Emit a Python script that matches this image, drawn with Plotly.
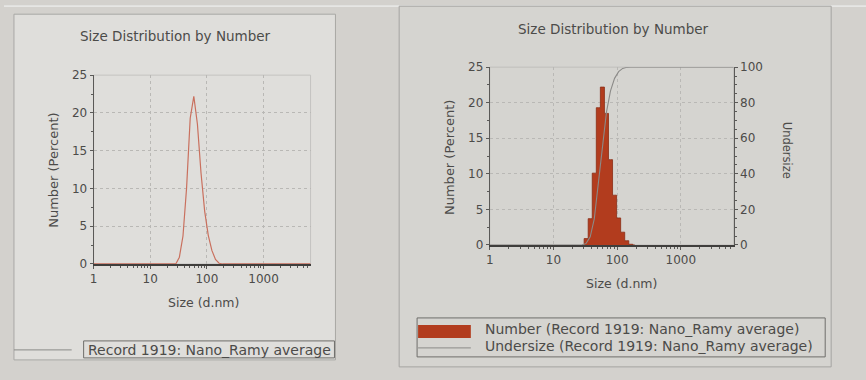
import plotly.graph_objects as go

W, H = 866, 380

# ---------------- data ----------------
sizes = [28.21, 32.67, 37.84, 43.82, 50.75, 58.77, 68.06, 78.82, 91.28, 105.7, 122.4, 141.8, 164.2, 190.1]
number_pct = [0, 0.9, 3.7, 10.1, 19.3, 22.2, 18.5, 12.0, 7.0, 3.8, 1.8, 0.6, 0.1, 0]
line_sizes = [1.0] + sizes + [6800]
line_number = [0] + number_pct + [0]
under_sizes = [1.0, 28.21, 32.67, 37.84, 43.82, 50.75, 58.77, 68.06, 78.82, 91.28, 105.7, 122.4, 141.8, 164.2, 6800]
under_pct = [0, 0, 0.9, 4.6, 14.7, 34.0, 56.2, 74.7, 86.7, 93.7, 97.5, 99.3, 99.9, 100, 100]
x_tickvals = [1, 10, 100, 1000]
x_ticktext = ["1", "10", "100", "1000"]
y_ticks = [0, 5, 10, 15, 20, 25]
y2_ticks = [0, 20, 40, 60, 80, 100]
chart_title = "Size Distribution by Number"
x_title = "Size (d.nm)"
y_title = "Number (Percent)"
y2_title = "Undersize"
legend_left = "Record 1919: Nano_Ramy average"
legend_num = "Number (Record 1919: Nano_Ramy average)"
legend_und = "Undersize (Record 1919: Nano_Ramy average)"

# ---------------- style ----------------
FONT = "DejaVu Sans"
TXT = "#4c4b49"
AX = "#5a5957"
GRID = "#b9b8b5"
PAGE = "#d3d1cd"
LPANEL = "#dfdedb"
RPANEL = "#d5d4d0"
BAR = "#b23c1e"
BAR_EDGE = "#8a2c14"
LINE_RED = "#c9705e"
UNDER = "#8b8a88"

# vertical calibration of the rendered page (target pixel -> layout pixel)
VS, VO = 0.964, 6.8


def px(x):
    return x / W


def py(y):
    return 1 - ((y - VO) / VS) / H


fig = go.Figure()

fig.add_trace(go.Scatter(x=line_sizes, y=line_number, mode="lines",
                         line=dict(color=LINE_RED, width=1.2),
                         xaxis="x", yaxis="y", showlegend=False, name=legend_left))
fig.add_trace(go.Scatter(x=sizes, y=number_pct, mode="lines", line_shape="hvh",
                         fill="tozeroy", fillcolor=BAR,
                         line=dict(color=BAR_EDGE, width=0.8),
                         xaxis="x2", yaxis="y2", showlegend=False, name=legend_num))
fig.add_trace(go.Scatter(x=under_sizes, y=under_pct, mode="lines",
                         line=dict(color=UNDER, width=1.1),
                         xaxis="x2", yaxis="y3", showlegend=False, name=legend_und))

common_x = dict(type="log", range=[0, 3.83], showline=True, linecolor="#3f3e3c", linewidth=2,
                ticks="outside", ticklen=3, tickcolor=AX, tickvals=x_tickvals,
                ticktext=x_ticktext, showgrid=True, gridcolor=GRID, griddash="dot",
                gridwidth=1, zeroline=False,
                minor=dict(ticks="outside", ticklen=2, tickcolor=AX, dtick="D1",
                           showgrid=False),
                tickfont=dict(family=FONT, size=12, color=TXT), mirror=False)
common_y = dict(range=[0, 25], showline=True, linecolor=AX, linewidth=1,
                ticks="outside", ticklen=3, tickcolor=AX, tickvals=y_ticks,
                showgrid=True, gridcolor=GRID, griddash="dot", zeroline=False,
                minor=dict(ticks="outside", ticklen=2, tickcolor=AX, dtick=2.5,
                           showgrid=False),
                tickfont=dict(family=FONT, size=12, color=TXT))

fig.update_layout(
    width=W, height=H, margin=dict(l=0, r=0, t=0, b=0),
    paper_bgcolor=PAGE, plot_bgcolor="rgba(0,0,0,0)",
    showlegend=False,
    xaxis=dict(common_x, domain=[px(90), px(308)], anchor="y"),
    yaxis=dict(common_y, domain=[py(264), py(75)], anchor="x"),
    xaxis2=dict(common_x, domain=[px(488), px(733)], anchor="y2"),
    yaxis2=dict(common_y, domain=[py(245), py(67)], anchor="x2"),
    yaxis3=dict(range=[0, 100], overlaying="y2", side="right", anchor="x2",
                showline=True, linecolor=AX, linewidth=1, ticks="outside", ticklen=3,
                tickcolor=AX, tickvals=y2_ticks, showgrid=False, zeroline=False,
                minor=dict(ticks="outside", ticklen=2, tickcolor=AX, dtick=5),
                tickfont=dict(family=FONT, size=12, color=TXT)),
)

shapes = [
    # light top edge of the page
    dict(type="rect", xref="paper", yref="paper", x0=0, x1=1, y0=py(5), y1=1,
         fillcolor="#e6e6e4", line=dict(width=0), layer="below"),
    # left panel
    dict(type="rect", xref="paper", yref="paper", x0=px(10), x1=px(333), y0=py(360), y1=py(14),
         fillcolor=LPANEL, line=dict(color="#a9a8a5", width=1), layer="below"),
    # right panel
    dict(type="rect", xref="paper", yref="paper", x0=px(397), x1=px(831), y0=py(367), y1=py(6),
         fillcolor=RPANEL, line=dict(color="#a5a4a1", width=1), layer="below"),
    # plot area frames
    dict(type="rect", xref="paper", yref="paper", x0=px(90), x1=px(308), y0=py(264), y1=py(75),
         line=dict(color="#c4c3c0", width=1), layer="below"),
    dict(type="rect", xref="paper", yref="paper", x0=px(488), x1=px(733), y0=py(245), y1=py(67),
         line=dict(color="#bfbebb", width=1), layer="below"),
    # left legend box + line sample
    dict(type="rect", xref="paper", yref="paper", x0=px(80), x1=px(332), y0=py(358), y1=py(341),
         line=dict(color="#6e6d6a", width=1)),
    dict(type="line", xref="paper", yref="paper", x0=px(10), x1=px(68), y0=py(350), y1=py(350),
         line=dict(color=UNDER, width=1)),
    # right legend box + samples
    dict(type="rect", xref="paper", yref="paper", x0=px(415), x1=px(825), y0=py(357), y1=py(318),
         line=dict(color="#6e6d6a", width=1)),
    dict(type="rect", xref="paper", yref="paper", x0=px(416), x1=px(469), y0=py(338), y1=py(325),
         fillcolor=BAR, line=dict(width=0)),
    dict(type="line", xref="paper", yref="paper", x0=px(416), x1=px(469), y0=py(348), y1=py(348),
         line=dict(color=UNDER, width=1)),
]
fig.update_layout(shapes=shapes)


def ann(text, x, y, size=12, angle=0, xanchor="center"):
    return dict(text=text, x=px(x), y=py(y), xref="paper", yref="paper", showarrow=False,
                font=dict(family=FONT, size=size, color=TXT), textangle=angle,
                xanchor=xanchor, yanchor="middle", borderpad=0)


annotations = [
    ann(chart_title, 172, 36, 13.5),
    ann(chart_title, 612, 29, 13.5),
    ann(x_title, 200, 303, 12.5),
    ann(x_title, 620, 284, 12.5),
    ann(y_title, 49, 170, 13, -90),
    ann(y_title, 447, 157, 13, -90),
    ann(y2_title, 787, 150, 11.5, 90),
    ann(legend_left, 83, 350, 14, xanchor="left"),
    ann(legend_num, 482, 329, 14, xanchor="left"),
    ann(legend_und, 482, 346, 14, xanchor="left"),
]
fig.update_layout(annotations=annotations)

fig.write_html(
    "out.html", config={"displayModeBar": False},
    post_script=("document.documentElement.style.overflow='hidden';"
                 "document.body.style.margin='0';document.body.style.overflow='hidden';"
                 "document.body.style.height='380px';"
                 "document.body.style.background='#e6e6e4';"))
